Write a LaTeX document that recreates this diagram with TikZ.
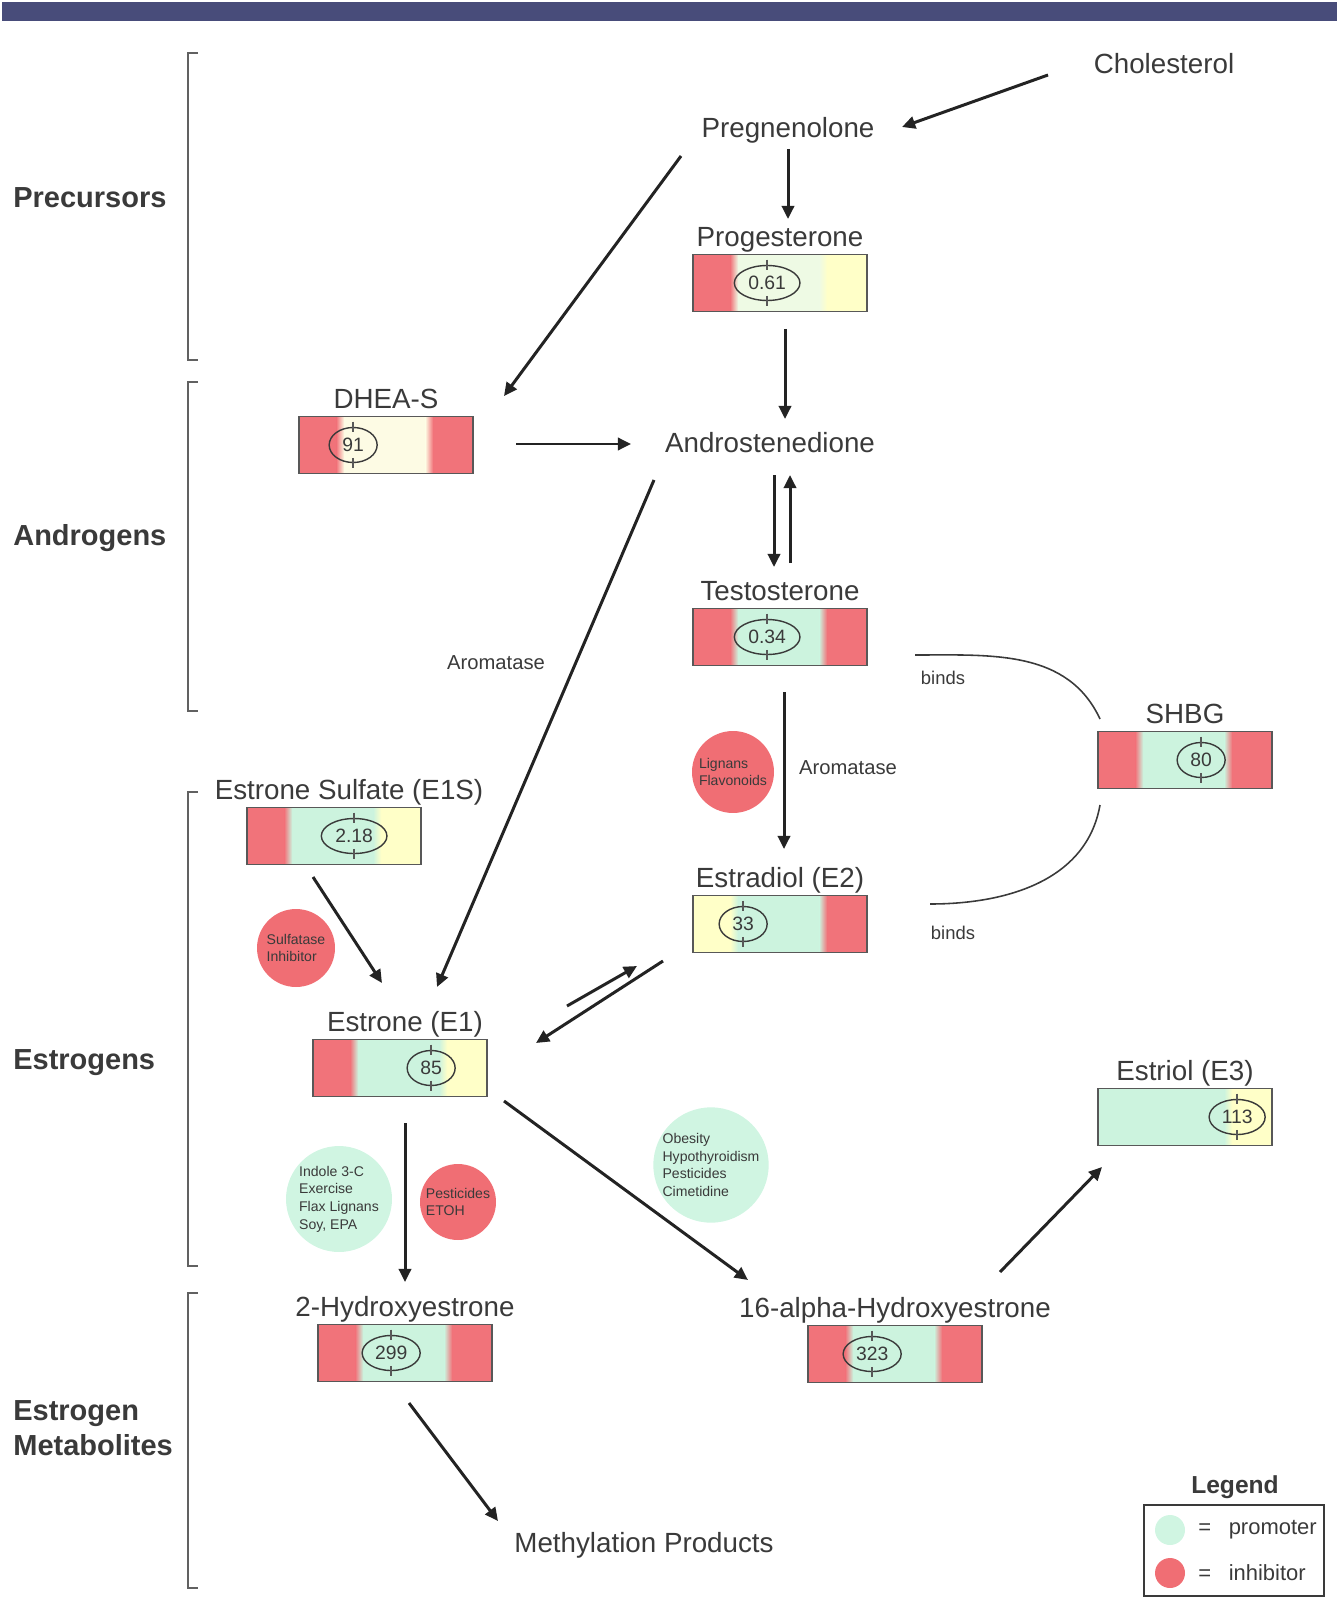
\documentclass[tikz,border=0pt]{standalone}
\usepackage{fontspec}
\setmainfont{Liberation Sans}
\usepackage{xcolor}
\usepackage{tikz}
\usetikzlibrary{arrows.meta, positioning, shapes.geometric}

\definecolor{inkgray}{RGB}{58,58,58}
\definecolor{arrowink}{RGB}{35,35,35}
\definecolor{barred}{RGB}{241,115,122}
\definecolor{barmint}{RGB}{204,243,222}
\definecolor{baryellow}{RGB}{255,255,200}
\definecolor{barcream}{RGB}{253,251,228}
\definecolor{barpale}{RGB}{238,250,228}
\definecolor{blobred}{RGB}{240,110,116}
\definecolor{blobgreen}{RGB}{208,245,226}
\definecolor{banner}{RGB}{72,76,122}

% level bar: name, position, left/mid/right colours, ring offset, value, title, title shift
\newcommand{\levelbar}[9]{%
  \node[barbox] (#1) at (#2) {};
  \fill[#3] (#1.south west) rectangle ([xshift=0.82cm]#1.north west);
  \fill[#4] ([xshift=0.82cm]#1.south west) rectangle ([xshift=2.6cm]#1.north west);
  \fill[#5] ([xshift=2.6cm]#1.south west) rectangle (#1.north east);
  \shade[left color=#3, right color=#4] ([xshift=0.74cm]#1.south west) rectangle ([xshift=0.9cm]#1.north west);
  \shade[left color=#4, right color=#5] ([xshift=2.52cm]#1.south west) rectangle ([xshift=2.68cm]#1.north west);
  \draw[barline] (#1.south west) rectangle (#1.north east);
  \node[valring] (#1v) at ([xshift=#6]#1.west) {#7};
  \draw[barline] ([yshift=3pt]#1v.north) -- ([yshift=-3pt]#1v.north)
                 ([yshift=3pt]#1v.south) -- ([yshift=-3pt]#1v.south);
  \node[barlbl, above=0pt of #1, xshift=#9] (#1L) {#8};
}

\begin{document}
\begin{tikzpicture}[
    x=0.02cm, y=-0.02cm,
    lbl/.style={font=\fontsize{15.8}{19}\selectfont, text=inkgray},
    barlbl/.style={lbl, inner sep=1pt, text depth=3.2pt},
    grp/.style={font=\fontsize{16.5}{19.8}\selectfont\bfseries, text=inkgray, anchor=west, align=left, inner sep=0pt},
    note/.style={font=\fontsize{11.5}{13}\selectfont, text=inkgray},
    barbox/.style={minimum width=3.46cm, minimum height=1.12cm, inner sep=0pt},
    barline/.style={draw=inkgray!85, line width=0.8pt},
    valring/.style={ellipse, draw=inkgray, line width=0.8pt, minimum width=0.96cm, minimum height=0.7cm, inner sep=2.5pt, font=\fontsize{11}{13}\selectfont, text=inkgray},
    blob/.style={circle, inner sep=0pt, align=left, font=\fontsize{8}{10}\selectfont, text=inkgray},
    bracket/.style={draw=inkgray!80, line width=0.7pt},
    arr/.style={draw=arrowink, line width=1.7pt, -{Triangle[length=7.5pt, width=7pt]}},
    bindline/.style={draw=inkgray, line width=0.9pt}
  ]
    \useasboundingbox (0,0) rectangle (1339,1611);
    \fill[banner] (2,2) rectangle (1337,21);

    % group brackets
    \foreach \top/\bot in {53/360, 382/711, 792/1266, 1293/1588}
      \draw[bracket] (198,\top) -| (188,\bot) -- (198,\bot);
    \node[grp] (grpPre) at (13,198) {Precursors};
    \node[grp] (grpAndro) at (13,538) {Androgens};
    \node[grp] (grpEstro) at (13,1063) {Estrogens};
    \node[grp] (grpMeta) at (13,1428) {Estrogen\\Metabolites};

    % plain steps
    \node[lbl] (chol) at (1164,64) {Cholesterol};
    \node[lbl] (preg) at (788,130) {Pregnenolone};
    \node[lbl] (andro) at (770,443) {Androstenedione};
    \node[lbl] (meth) at (644,1545) {Methylation Products};

    % measured steps
    \levelbar{prog}{780,283}{barred}{barpale}{baryellow}{1.48cm}{0.61}{Progesterone}{0cm}
    \levelbar{dhea}{386,445}{barred}{barcream}{barred}{1.08cm}{91}{DHEA-S}{0cm}
    \levelbar{test}{780,637}{barred}{barmint}{barred}{1.48cm}{0.34}{Testosterone}{0cm}
    \levelbar{shbg}{1185,760}{barred}{barmint}{barred}{2.06cm}{80}{SHBG}{0cm}
    \levelbar{estradiol}{780,924}{baryellow}{barmint}{barred}{1.0cm}{33}{Estradiol (E2)}{0cm}
    \levelbar{esulf}{334,836}{barred}{barmint}{baryellow}{2.14cm}{2.18}{Estrone Sulfate (E1S)}{0.3cm}
    \levelbar{estrone}{400,1068}{barred}{barmint}{baryellow}{2.36cm}{85}{Estrone (E1)}{0.1cm}
    \levelbar{twooh}{405,1353}{barred}{barmint}{barred}{1.46cm}{299}{2-Hydroxyestrone}{0cm}
    \levelbar{sixteen}{895,1354}{barred}{barmint}{barred}{1.28cm}{323}{16-alpha-Hydroxyestrone}{0cm}
    \levelbar{estriol}{1185,1117}{barmint}{barmint}{baryellow}{2.78cm}{113}{Estriol (E3)}{0cm}

    % modifiers
    \node[blob, fill=blobred, minimum size=1.64cm] (lignans) at (733,772) {Lignans\\Flavonoids};
    \node[blob, fill=blobred, minimum size=1.56cm] (sulfatase) at (296,948) {Sulfatase\\Inhibitor};
    \node[blob, fill=blobgreen, minimum size=2.12cm] (indole) at (339,1199) {Indole 3-C\\Exercise\\Flax Lignans\\Soy, EPA};
    \node[blob, fill=blobred, minimum size=1.52cm] (pesticides) at (458,1202) {Pesticides\\ETOH};
    \node[blob, fill=blobgreen, minimum size=2.16cm] (obesity) at (711,1165) {Obesity\\Hypothyroidism\\Pesticides\\Cimetidine};

    \node[note] (aromA) at (496,663) {Aromatase};
    \node[note] (aromB) at (848,768) {Aromatase};
    \node[note, font=\fontsize{10.5}{12}\selectfont] (bindsA) at (943,678) {binds};
    \node[note, font=\fontsize{10.5}{12}\selectfont] (bindsB) at (953,933) {binds};

    % pathway arrows
    \draw[arr] ([shift={(-116,11)}]chol.center) -- ([shift={(114,-3)}]preg.center);
    \draw[arr] ([shift={(0,19)}]preg.center) -- ([shift={(8,-64)}]prog.center);
    \draw[arr] ([shift={(-107,26)}]preg.center) -- ([shift={(118,-49)}]dhea.center);
    \draw[arr] ([shift={(5,46)}]prog.center) -- ([shift={(15,-24)}]andro.center);
    \draw[arr] ([shift={(130,-1)}]dhea.center) -- ([shift={(-139,1)}]andro.center);
    \draw[arr] ([shift={(4,32)}]andro.center) -- ([shift={(-6,-70)}]test.center);
    \draw[arr] ([shift={(10,-74)}]test.center) -- ([shift={(20,32)}]andro.center);
    \draw[arr] ([shift={(-116,37)}]andro.center) -- ([shift={(37,-81)}]estrone.center);
    \draw[arr] ([shift={(4,55)}]test.center) -- ([shift={(4,-75)}]estradiol.center);
    \draw[arr] ([shift={(-21,41)}]esulf.center) -- ([shift={(-18,-85)}]estrone.center);
    \draw[arr] ([shift={(167,-62)}]estrone.center) -- ([shift={(-143,42)}]estradiol.center);
    \draw[arr] ([shift={(-117,37)}]estradiol.center) -- ([shift={(136,-25)}]estrone.center);
    \draw[arr] ([shift={(5,55)}]estrone.center) -- ([shift={(0,-71)}]twooh.center);
    \draw[arr] ([shift={(104,33)}]estrone.center) -- ([shift={(-147,-74)}]sixteen.center);
    \draw[arr] ([shift={(105,-82)}]sixteen.center) -- ([shift={(-83,50)}]estriol.center);
    \draw[arr] ([shift={(4,50)}]twooh.center) -- ([shift={(-146,-24)}]meth.center);

    % binding to SHBG
    \draw[bindline] ([shift={(135,18)}]test.center) to[out=0, in=115] ([shift={(-85,-41)}]shbg.center);
    \draw[bindline] ([shift={(-85,45)}]shbg.center) to[out=-100, in=0] ([shift={(150,-20)}]estradiol.center);

    % legend
    \node[font=\fontsize{14}{16}\selectfont\bfseries, text=inkgray] (legendT) at (1235,1487) {Legend};
    \draw[draw=inkgray, line width=1.1pt] (1144,1505) rectangle (1324,1596);
    \node[circle, fill=blobgreen, minimum size=0.6cm, inner sep=0pt] (keyPromo) at (1170,1530) {};
    \node[circle, fill=blobred, minimum size=0.6cm, inner sep=0pt] (keyInhib) at (1170,1573) {};
    \node[lbl, font=\fontsize{12.5}{14}\selectfont, anchor=west, inner sep=0pt] (keyPromoT) at (1198,1530) {=\hspace{0.8em}promoter};
    \node[lbl, font=\fontsize{12.5}{14}\selectfont, anchor=west, inner sep=0pt] (keyInhibT) at (1198,1573) {=\hspace{0.8em}inhibitor};
  \end{tikzpicture}
\end{document}
